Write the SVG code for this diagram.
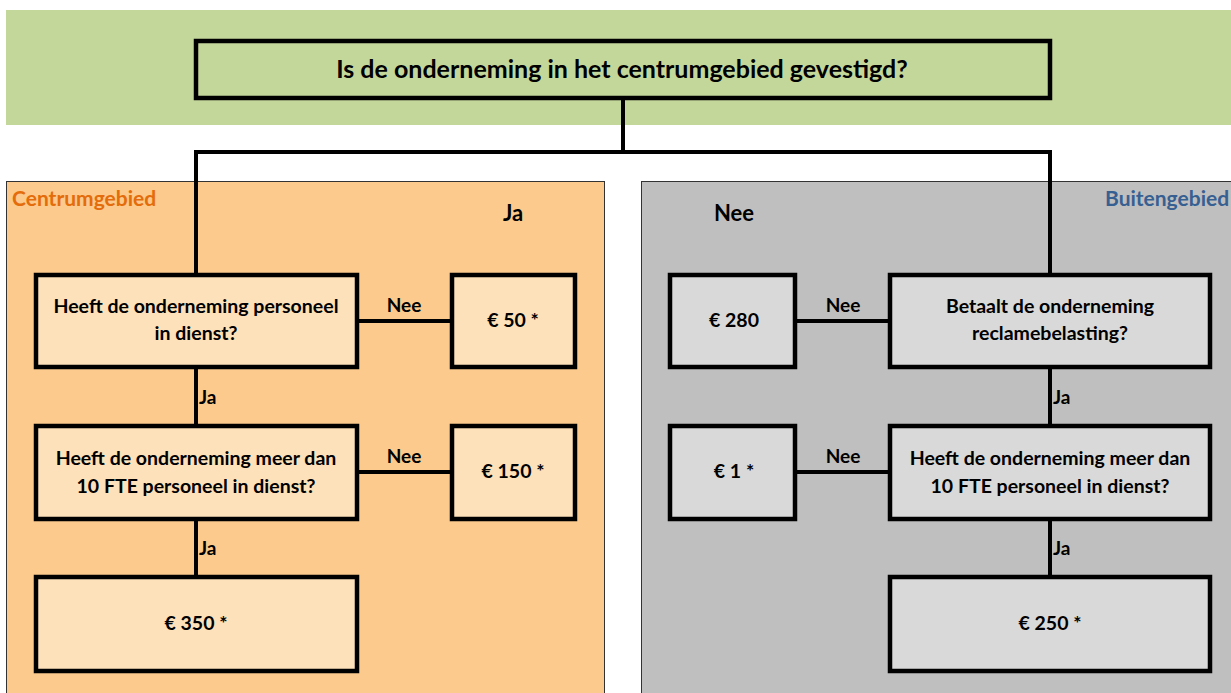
<svg xmlns="http://www.w3.org/2000/svg" width="1231" height="693" viewBox="0 0 1231 693">
<style>
text{font-family:Lato,"Liberation Sans",sans-serif;font-weight:bold;fill:#000;text-anchor:middle}
.box{stroke:#000;stroke-width:4.5}
.lo{fill:#FDE1BA}
.lg{fill:#D9D9D9}
.q{font-size:19.5px}
.lbl{font-size:19px}
.conn{stroke:#000;stroke-width:4;fill:none}
</style>
<rect x="6" y="10" width="1225" height="115" fill="#C4D79B"/>
<rect x="6.5" y="181.5" width="598" height="512" fill="#FBCA8C" stroke="#333" stroke-width="1"/>
<rect x="641.5" y="181.5" width="600" height="512" fill="#BFBFBF" stroke="#333" stroke-width="1"/>
<text x="12" y="206" style="text-anchor:start;font-size:21px;fill:#E46C0A">Centrumgebied</text>
<text x="1105" y="206" style="text-anchor:start;font-size:21px;fill:#376092">Buitengebied</text>
<text x="513" y="221" style="font-size:22px">Ja</text>
<text x="734" y="221" style="font-size:22px">Nee</text>
<g id="connectors">
<path class="conn" d="M623,98 V152 M196,152 H1050 M196,150 V275 M1050,150 V275"/>
<path class="conn" d="M357,321 H452 M357,472 H452 M196,367 V426 M196,519 V577"/>
<path class="conn" d="M795,321 H890 M795,472 H890 M1050,367 V426 M1050,519 V577"/>
<text class="lbl" x="404" y="312">Nee</text>
<text class="lbl" x="404" y="463">Nee</text>
<text class="lbl" x="843" y="312">Nee</text>
<text class="lbl" x="843" y="463">Nee</text>
<text class="lbl" x="199" y="404" style="text-anchor:start">Ja</text>
<text class="lbl" x="199" y="555" style="text-anchor:start">Ja</text>
<text class="lbl" x="1053" y="404" style="text-anchor:start">Ja</text>
<text class="lbl" x="1053" y="555" style="text-anchor:start">Ja</text>
</g>
<g id="root">
<rect class="box" x="196" y="41" width="854" height="57" fill="#C4D79B"/>
<text x="622" y="78" style="font-size:25px">Is de onderneming in het centrumgebied gevestigd?</text>
</g>
<g id="c-personeel">
<rect class="box lo" x="36" y="275" width="321" height="92"/>
<text class="q" x="196" y="313">Heeft de onderneming personeel</text>
<text class="q" x="196" y="340">in dienst?</text>
</g>
<g id="c-50">
<rect class="box lo" x="452" y="275" width="123" height="92"/>
<text class="q" x="513" y="327">€ 50 *</text>
</g>
<g id="c-fte">
<rect class="box lo" x="36" y="426" width="321" height="93"/>
<text class="q" x="196" y="465">Heeft de onderneming meer dan</text>
<text class="q" x="196" y="493">10 FTE personeel in dienst?</text>
</g>
<g id="c-150">
<rect class="box lo" x="452" y="426" width="123" height="93"/>
<text class="q" x="513" y="478">€ 150 *</text>
</g>
<g id="c-350">
<rect class="box lo" x="36" y="577" width="321" height="94"/>
<text class="q" x="196" y="630">€ 350 *</text>
</g>
<g id="b-280">
<rect class="box lg" x="670" y="275" width="125" height="92"/>
<text class="q" x="734" y="327">€ 280</text>
</g>
<g id="b-reclame">
<rect class="box lg" x="890" y="275" width="320" height="92"/>
<text class="q" x="1050" y="313">Betaalt de onderneming</text>
<text class="q" x="1050" y="340">reclamebelasting?</text>
</g>
<g id="b-1">
<rect class="box lg" x="670" y="426" width="125" height="93"/>
<text class="q" x="734" y="478">€ 1 *</text>
</g>
<g id="b-fte">
<rect class="box lg" x="890" y="426" width="320" height="93"/>
<text class="q" x="1050" y="465">Heeft de onderneming meer dan</text>
<text class="q" x="1050" y="493">10 FTE personeel in dienst?</text>
</g>
<g id="b-250">
<rect class="box lg" x="890" y="577" width="320" height="94"/>
<text class="q" x="1050" y="630">€ 250 *</text>
</g>
</svg>
